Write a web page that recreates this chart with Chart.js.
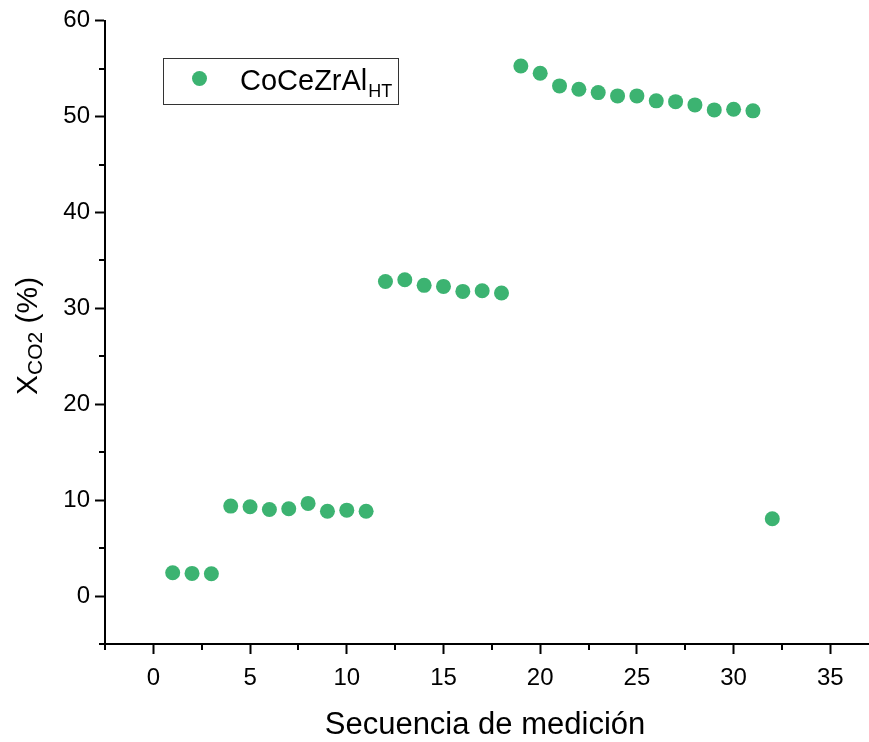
<!DOCTYPE html>
<html lang="es">
<head>
<meta charset="UTF-8">
<title>Conversión de CO2</title>
<style>
  body { margin: 0; background: #fff; overflow: hidden; }
  #wrap { width: 869px; height: 742px; }
</style>
<script src="https://cdn.jsdelivr.net/npm/chart.js@4.4.1/dist/chart.umd.min.js"></script>
</head>
<body>
<div id="wrap"><canvas id="chart" width="869" height="742"></canvas></div>
<script>
// measurement sequence and CO2 conversion (%)
const sequence = [1, 2, 3, 4, 5, 6, 7, 8, 9, 10, 11, 12, 13, 14, 15, 16,
                  17, 18, 19, 20, 21, 22, 23, 24, 25, 26, 27, 28, 29, 30, 31, 32];
const conversion = [2.43, 2.36, 2.33, 9.38, 9.31, 9.03, 9.10, 9.66, 8.85, 8.96, 8.85,
                    32.81, 32.99, 32.40, 32.29, 31.77, 31.84, 31.60,
                    55.28, 54.52, 53.20, 52.85, 52.50, 52.16, 52.16, 51.64, 51.56,
                    51.22, 50.70, 50.77, 50.60, 8.06];
const seriesName = 'CoCeZrAl';
const seriesSub = 'HT';
const xMajorTicks = [0, 5, 10, 15, 20, 25, 30, 35];
const yMajorTicks = [0, 10, 20, 30, 40, 50, 60];
const xMinorTicks = [-2.5, 2.5, 7.5, 12.5, 17.5, 22.5, 27.5, 32.5];
const yMinorTicks = [-5, 5, 15, 25, 35, 45, 55];

const green = '#3CB371';
const FONT = '"Liberation Sans", Arial, sans-serif';

// minor ticks, axis titles with subscripts and the framed legend
const decorations = {
  id: 'decorations',
  afterDraw(chart) {
    const ctx = chart.ctx;
    const xs = chart.scales.x, ys = chart.scales.y;
    const area = chart.chartArea;
    ctx.save();
    ctx.strokeStyle = '#000';
    ctx.lineWidth = 2;
    ctx.beginPath();
    xMinorTicks.forEach(v => {
      const px = Math.round(xs.getPixelForValue(v));
      ctx.moveTo(px, area.bottom);
      ctx.lineTo(px, area.bottom + 6);
    });
    yMinorTicks.forEach(v => {
      const py = Math.round(ys.getPixelForValue(v));
      ctx.moveTo(area.left, py);
      ctx.lineTo(area.left - 6, py);
    });
    ctx.stroke();

    ctx.fillStyle = '#000';
    ctx.textBaseline = 'alphabetic';

    // x axis title
    ctx.font = '31px ' + FONT;
    ctx.textAlign = 'center';
    ctx.fillText('Secuencia de medición', 485, 734);

    // y axis title: X_CO2 (%)
    ctx.save();
    ctx.translate(37, 395);
    ctx.rotate(-Math.PI / 2);
    ctx.textAlign = 'left';
    let cx = 0;
    ctx.font = '30px ' + FONT;
    ctx.fillText('X', cx, 0);
    cx += ctx.measureText('X').width;
    ctx.font = '21px ' + FONT;
    ctx.fillText('CO2', cx, 5);
    cx += ctx.measureText('CO2').width;
    ctx.font = '30px ' + FONT;
    ctx.fillText(' (%)', cx, 0);
    ctx.restore();

    // legend
    ctx.lineWidth = 1;
    ctx.strokeStyle = '#333';
    ctx.strokeRect(163.5, 58.5, 235, 46);
    ctx.fillStyle = green;
    ctx.beginPath();
    ctx.arc(199.5, 78.5, 7.5, 0, Math.PI * 2);
    ctx.fill();
    ctx.fillStyle = '#000';
    ctx.textAlign = 'left';
    ctx.font = '29px ' + FONT;
    ctx.fillText(seriesName, 240, 90);
    const w = ctx.measureText(seriesName).width;
    ctx.font = '18px ' + FONT;
    ctx.fillText(seriesSub, 240 + w + 1, 97);
    ctx.restore();
  }
};

const points = sequence.map((x, i) => ({ x: x, y: conversion[i] }));

new Chart(document.getElementById('chart'), {
  type: 'scatter',
  data: {
    datasets: [{
      label: seriesName + seriesSub,
      data: points,
      backgroundColor: green,
      borderWidth: 0,
      pointRadius: 7.5,
      pointHoverRadius: 7.5
    }]
  },
  options: {
    responsive: false,
    animation: false,
    events: [],
    layout: { autoPadding: false, padding: { top: 20.7, right: 0, left: 0, bottom: 0 } },
    plugins: { legend: { display: false }, tooltip: { enabled: false } },
    scales: {
      x: {
        type: 'linear',
        min: -2.5,
        max: 37,
        afterBuildTicks: s => { s.ticks = xMajorTicks.map(v => ({ value: v })); },
        afterFit: s => { s.height = 98; s.paddingLeft = 0; s.paddingRight = 0; },
        ticks: { color: '#000', font: { family: FONT, size: 24 }, padding: 10, maxRotation: 0, autoSkip: false },
        grid: { drawOnChartArea: false, drawTicks: true, tickLength: 10, tickColor: '#000', tickWidth: 2 },
        border: { display: true, color: '#000', width: 2 }
      },
      y: {
        type: 'linear',
        min: -5,
        max: 60,
        afterBuildTicks: s => { s.ticks = yMajorTicks.map(v => ({ value: v })); },
        afterFit: s => { s.width = 105; s.paddingTop = 0; s.paddingBottom = 0; },
        ticks: { color: '#000', font: { family: FONT, size: 24 }, padding: 5, autoSkip: false },
        grid: { drawOnChartArea: false, drawTicks: true, tickLength: 10, tickColor: '#000', tickWidth: 2 },
        border: { display: true, color: '#000', width: 2 }
      }
    }
  },
  plugins: [decorations]
});
</script>
</body>
</html>
